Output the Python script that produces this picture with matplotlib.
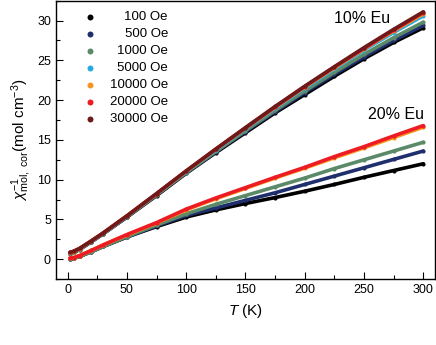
import matplotlib
matplotlib.use('Agg')
import matplotlib.pyplot as plt
from matplotlib.ticker import MultipleLocator

plt.rcParams['font.family'] = ['Liberation Sans', 'DejaVu Sans']
plt.rcParams['mathtext.fontset'] = 'custom'
plt.rcParams['mathtext.rm'] = 'Liberation Sans'
plt.rcParams['mathtext.it'] = 'Liberation Sans:italic'

# Temperature points (K)
T = [2, 5, 10, 20, 30, 50, 75, 100, 125, 150, 175, 200, 225, 250, 275, 300]

fields = ['100 Oe', '500 Oe', '1000 Oe', '5000 Oe', '10000 Oe', '20000 Oe', '30000 Oe']
colors = ['#000000', '#1f2f6e', '#5b8a68', '#27aae1', '#f7941d', '#ed1c24', '#6e1a1a']

# 10% Eu, inverse susceptibility
eu10_100 = [0.7, 0.85, 1.2, 2.2, 3.2, 5.3, 8.0, 10.8, 13.4, 15.9, 18.4, 20.7, 23.0, 25.2, 27.25, 29.1]
eu10_500 = [0.75, 0.9, 1.25, 2.2, 3.2, 5.3, 8.05, 10.85, 13.5, 16.05, 18.55, 20.95, 23.25, 25.45, 27.5, 29.4]
eu10_1000 = [0.75, 0.9, 1.25, 2.2, 3.2, 5.35, 8.1, 10.9, 13.55, 16.15, 18.7, 21.15, 23.5, 25.75, 27.85, 29.8]
eu10_5000 = [0.8, 0.95, 1.3, 2.25, 3.25, 5.4, 8.2, 11.0, 13.7, 16.4, 19.0, 21.5, 23.9, 26.3, 28.5, 30.6]
eu10_10000 = [0.8, 0.95, 1.3, 2.3, 3.3, 5.45, 8.2, 11.05, 13.8, 16.5, 19.1, 21.65, 24.05, 26.45, 28.7, 30.85]
eu10_20000 = [0.85, 1.0, 1.35, 2.3, 3.3, 5.45, 8.25, 11.1, 13.85, 16.5, 19.15, 21.7, 24.15, 26.5, 28.8, 31.0]
eu10_30000 = [0.85, 1.0, 1.35, 2.3, 3.3, 5.45, 8.25, 11.1, 13.85, 16.55, 19.2, 21.75, 24.2, 26.6, 28.9, 31.1]

# 20% Eu (5000 and 30000 Oe hidden under the red curve)
eu20_100 = [0.05, 0.1, 0.35, 0.95, 1.6, 2.8, 4.1, 5.3, 6.2, 7.0, 7.75, 8.55, 9.4, 10.3, 11.15, 12.0]
eu20_500 = [0.05, 0.1, 0.35, 0.95, 1.6, 2.8, 4.2, 5.5, 6.45, 7.4, 8.35, 9.4, 10.45, 11.5, 12.55, 13.6]
eu20_1000 = [0.05, 0.1, 0.35, 0.95, 1.6, 2.85, 4.3, 5.7, 6.9, 8.0, 9.1, 10.2, 11.4, 12.5, 13.6, 14.7]
eu20_10000 = [0.15, 0.2, 0.45, 1.1, 1.8, 3.05, 4.55, 6.2, 7.6, 8.9, 10.2, 11.45, 12.75, 14.0, 15.3, 16.6]
eu20_20000 = [0.15, 0.2, 0.45, 1.1, 1.8, 3.1, 4.6, 6.3, 7.7, 9.0, 10.3, 11.55, 12.9, 14.15, 15.5, 16.8]

eu10 = [eu10_100, eu10_500, eu10_1000, eu10_5000, eu10_10000, eu10_20000, eu10_30000]
eu20 = [eu20_100, eu20_500, eu20_1000, None, eu20_10000, eu20_20000, None]

fig = plt.figure(figsize=(4.36, 3.45), dpi=100)
ax = fig.add_axes([0.128, 0.191, 0.870, 0.807])

for i in range(len(fields)):
    for data in (eu10[i], eu20[i]):
        if data is None:
            continue
        ax.plot(T, data, '-', color=colors[i], lw=2.6, solid_capstyle='round',
                marker='o', ms=3, mew=0)

# legend drawn by hand so the labels can be right aligned
for i in range(len(fields)):
    y = 1 - (16.5 + 17 * i) / 278.4
    ax.plot([0.0897], [y], 'o', color=colors[i], ms=4.3, mew=0,
            transform=ax.transAxes, clip_on=False)
    ax.text(0.2955, y, fields[i], fontsize=9.5, ha='right', va='center',
            transform=ax.transAxes)

ax.text(248, 30.2, '10% Eu', fontsize=11.5, ha='center', va='center')
ax.text(276.7, 18.2, '20% Eu', fontsize=11.5, ha='center', va='center')

ax.set_xlim(-10, 310)
ax.set_ylim(-2.5, 32.5)
ax.xaxis.set_major_locator(MultipleLocator(50))
ax.xaxis.set_minor_locator(MultipleLocator(25))
ax.yaxis.set_major_locator(MultipleLocator(5))
ax.yaxis.set_minor_locator(MultipleLocator(2.5))
ax.tick_params(which='both', direction='in', top=False, right=False, labelsize=9)
ax.tick_params(which='major', length=5, width=0.8)
ax.tick_params(which='minor', length=3, width=0.8)
for s in ax.spines.values():
    s.set_linewidth(1.0)

ax.set_xlabel('$T$ (K)', fontsize=11, labelpad=4)
ax.set_ylabel(r'$\chi^{-1}_{\rm mol,\ cor}$(mol cm$^{-3}$)', fontsize=11, labelpad=2)

fig.savefig('out.png', dpi=100)
